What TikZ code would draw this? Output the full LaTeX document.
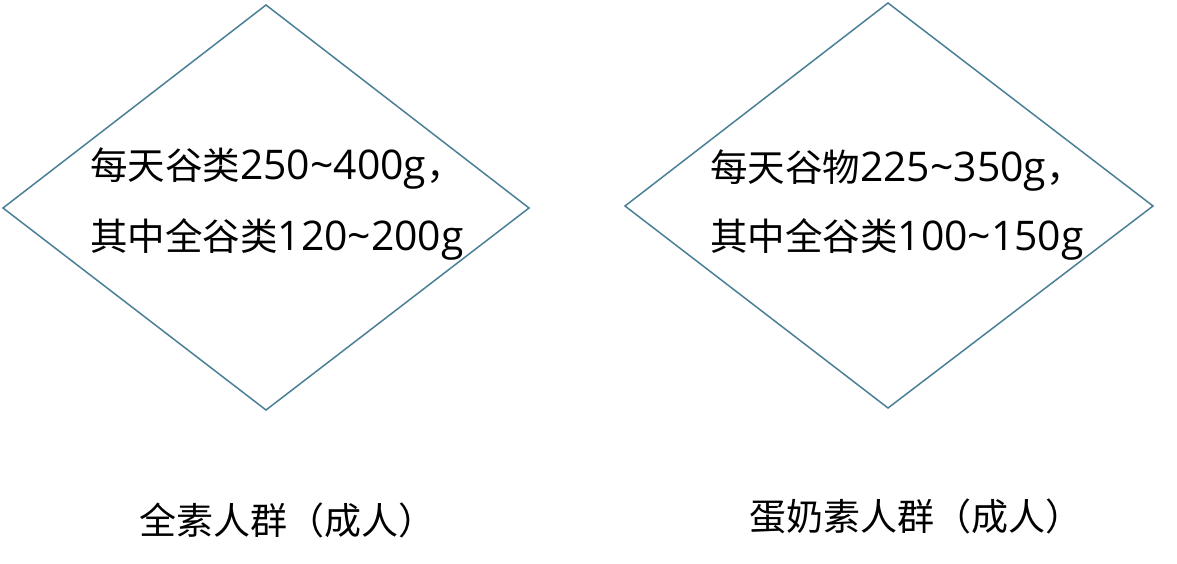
\documentclass[tikz,border=0pt]{standalone}
\usepackage{fontspec}
\setmainfont{Noto Sans CJK SC}
\newfontfamily\lat[Scale=1.09]{Open Sans}
\usetikzlibrary{shapes.geometric}
\definecolor{edge}{HTML}{4A7F95}
\tikzset{
  dia/.style={draw=edge, line width=1.5pt},
  txt/.style={anchor=west, inner sep=0pt, font=\fontsize{37.5}{40}\selectfont},
  lbl/.style={inner sep=0pt, font=\fontsize{37}{40}\selectfont}
}
\begin{document}
\begin{tikzpicture}[x=1pt,y=-1pt]
\useasboundingbox (0,0) rectangle (1177,564);
\draw[dia] (266,5) -- (529,208) -- (266,410) -- (3,208) -- cycle;
\draw[dia] (888,3) -- (1153,206) -- (888,408) -- (625,206) -- cycle;
\node[txt] (l1) at (90,169) {每天谷类{\lat 250\char"007E 400g}，};
\node[txt] (l2) at (90,239) {其中全谷类{\lat 120\char"007E 200g}};
\node[txt] (r1) at (710,171) {每天谷物{\lat 225\char"007E 350g}，};
\node[txt] (r2) at (710,239) {其中全谷类{\lat 100\char"007E 150g}};
\node[lbl] (lb) at (287,520) {全素人群（成人）};
\node[lbl] (rb) at (916,516) {蛋奶素人群（成人）};
\end{tikzpicture}
\end{document}
